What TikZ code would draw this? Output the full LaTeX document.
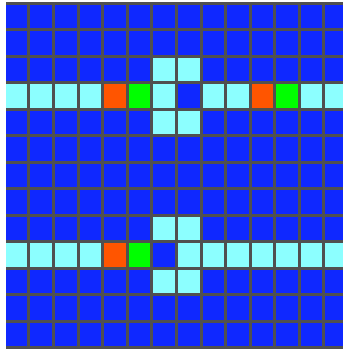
\documentclass[tikz,border=0pt]{standalone}
\definecolor{cblue}{RGB}{15,40,255}
\definecolor{ccyan}{RGB}{140,255,255}
\definecolor{corange}{RGB}{255,85,0}
\definecolor{cgreen}{RGB}{0,255,0}
\definecolor{cgrid}{RGB}{80,80,80}
\newcommand\gcell[3]{\fill[#3] ({4.4+24.58*#1},{3+26.5*#2}) rectangle ({4.4+24.58*(#1+1)},{3+26.5*(#2+1)});}
\tikzset{gridline/.style={draw=cgrid, line width=3pt}}
\begin{document}
\begin{tikzpicture}[x=1pt,y=-1pt]
\useasboundingbox (0,0) rectangle (343,349);
\fill[white] (0,0) rectangle (343,349);
\begin{scope}
\clip (6,1.5) rectangle (343,349);
\fill[cblue] (4.4,3) rectangle (348.5,347.5);
% vertical bars
\foreach \r in {2,4,8,10} { \foreach \c in {6,7} { \gcell{\c}{\r}{ccyan} } }
% row 3
\foreach \c in {0,1,2,3,6,8,9,12,13} { \gcell{\c}{3}{ccyan} }
\gcell{4}{3}{corange}
\gcell{10}{3}{corange}
\gcell{5}{3}{cgreen}
\gcell{11}{3}{cgreen}
% row 9
\foreach \c in {0,1,2,3,7,8,9,10,11,12,13} { \gcell{\c}{9}{ccyan} }
\gcell{4}{9}{corange}
\gcell{5}{9}{cgreen}
% grid lines
\foreach \i in {0,...,14} { \draw[gridline] ({4.4+24.58*\i},3) -- ({4.4+24.58*\i},347.5); }
\foreach \j in {0,...,13} { \draw[gridline] (4.4,{3+26.5*\j}) -- (348.5,{3+26.5*\j}); }
\end{scope}
\end{tikzpicture}
\end{document}
